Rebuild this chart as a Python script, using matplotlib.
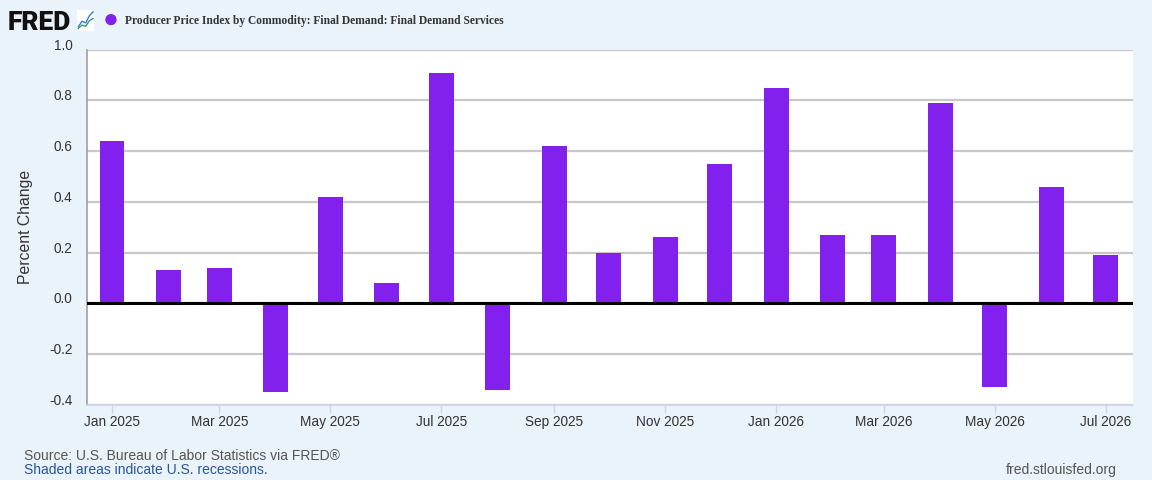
import datetime as dt
import matplotlib
matplotlib.use("Agg")
import matplotlib.pyplot as plt
import matplotlib.dates as mdates
import matplotlib.transforms as mtransforms

# monthly percent change, Jan 2025 .. Jul 2026
months = [dt.date(2025, m, 1) for m in range(1, 13)] + [dt.date(2026, m, 1) for m in range(1, 8)]
pct_change = [0.64, 0.13, 0.14, -0.35, 0.42, 0.08, 0.91, -0.34, 0.62, 0.20,
              0.26, 0.55, 0.85, 0.27, 0.27, 0.79, -0.33, 0.46, 0.19]
y_ticks = [-0.4, -0.2, 0.0, 0.2, 0.4, 0.6, 0.8, 1.0]

title = "Producer Price Index by Commodity: Final Demand: Final Demand Services"
bg = "#eaf2fa"
bar_color = "#8221ed"

plt.rcParams["font.family"] = ["Liberation Sans", "DejaVu Sans"]

fig = plt.figure(figsize=(11.52, 4.8), dpi=100, facecolor=bg)
ax = fig.add_axes([0.0751, 0.1563, 0.9084, 0.7402])
ax.set_facecolor("white")

ax.bar(months, pct_change, width=13.7, color=bar_color, zorder=3)

ax.set_xlim(dt.date(2024, 12, 18), dt.date(2026, 7, 16))
ax.set_ylim(-0.4, 1.0)
ax.set_yticks(y_ticks)
ax.set_yticklabels([f"{v:.1f}" for v in y_ticks])
ax.grid(axis="y", color="#c8c8c8", linewidth=1.6, zorder=0)
ax.axhline(0, color="black", linewidth=2.2, zorder=4)

ax.xaxis.set_major_locator(mdates.MonthLocator(bymonth=[1, 3, 5, 7, 9, 11]))
ax.xaxis.set_major_formatter(mdates.DateFormatter("%b %Y"))

for s in ["top", "right"]:
    ax.spines[s].set_visible(False)
ax.spines["left"].set_color("#a0a0a0")
ax.spines["left"].set_linewidth(1.2)
ax.spines["bottom"].set_color("#ccd6eb")
ax.spines["bottom"].set_linewidth(1.2)

ax.tick_params(axis="x", length=6, width=1, color="#ccd6eb", labelsize=9.8,
               labelcolor="#333333", pad=1)
ax.tick_params(axis="y", length=0, labelsize=9.8, labelcolor="#333333", pad=10)
# FRED puts the y labels a bit above the grid lines
off = mtransforms.ScaledTranslation(0, 4 / 72, fig.dpi_scale_trans)
for lab in ax.get_yticklabels():
    lab.set_transform(lab.get_transform() + off)

ax.set_ylabel("Percent Change", fontsize=11.3, color="#333333", labelpad=12)

# header: logo, marker, title
fig.text(0.007, 0.953, "FRED", fontsize=19, fontweight="heavy", color="#111111",
         family=["Roboto", "Liberation Sans"], va="center", ha="left")
icon = fig.add_axes([0.067, 0.935, 0.0148, 0.045])
icon.set_facecolor("white")
icon.plot([0, 1, 2, 3, 4], [0.5, 1.5, 1.2, 2.5, 3.2], color="#3a7bd5", lw=1)
icon.plot([0, 1, 2, 3, 4], [0.2, 0.8, 0.6, 1.6, 2.0], color="#2e9e6b", lw=1)
icon.set_xlim(-0.3, 4.3)
icon.set_ylim(-0.3, 3.6)
icon.set_xticks([])
icon.set_yticks([])
for s in icon.spines.values():
    s.set_visible(False)

fig.text(0.0957, 0.958, "\u25CF", fontsize=19, color=bar_color, va="center", ha="center")
fig.text(0.1085, 0.956, title, fontsize=8.3, fontweight="bold", color="#333333",
         family=["Liberation Serif", "DejaVu Serif"], va="center", ha="left")

# footer
fig.text(0.021, 0.050, "Source: U.S. Bureau of Labor Statistics via FRED\u00ae",
         fontsize=10, color="#555555", va="center")
fig.text(0.021, 0.021, "Shaded areas indicate U.S. recessions.",
         fontsize=10, color="#2a5599", va="center")
fig.text(0.969, 0.021, "fred.stlouisfed.org", fontsize=10, color="#555555",
         va="center", ha="right")

fig.savefig("out.png", dpi=100, facecolor=bg)
